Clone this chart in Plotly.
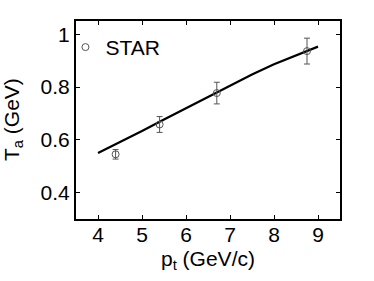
import plotly.graph_objects as go

# STAR data
pt_star = [4.40, 5.40, 6.70, 8.75]
ta_star = [0.545, 0.658, 0.777, 0.936]
ta_err = [0.018, 0.030, 0.041, 0.049]

# model curve
pt_model = [4.0, 4.5, 5.0, 5.5, 6.0, 6.5, 7.0, 7.5, 8.0, 8.5, 9.0]
ta_model = [0.550, 0.591, 0.633, 0.677, 0.720, 0.764, 0.806, 0.847, 0.886, 0.921, 0.953]

x_ticks = [4, 5, 6, 7, 8, 9]
y_ticks = [0.4, 0.6, 0.8, 1.0]
y_ticklabels = ["0.4", "0.6", "0.8", "1"]

FONT = "Liberation Sans, Arial, sans-serif"

fig = go.Figure()
fig.add_trace(go.Scatter(
    x=pt_model, y=ta_model, mode="lines",
    line=dict(color="black", width=2.2), showlegend=False,
))
fig.add_trace(go.Scatter(
    x=pt_star, y=ta_star, mode="markers", name="STAR",
    marker=dict(symbol="circle-open", size=7, color="#555555", line=dict(width=1)),
    error_y=dict(type="data", array=ta_err, visible=True, color="#555555",
                 thickness=1, width=3),
))

fig.update_layout(
    width=374, height=281,
    margin=dict(l=76, r=34, t=21, b=62),
    paper_bgcolor="white", plot_bgcolor="white",
    font=dict(family=FONT, size=21, color="black"),
    legend=dict(x=-0.04, y=0.97, xanchor="left", yanchor="top",
                bgcolor="rgba(0,0,0,0)", font=dict(size=21),
                itemwidth=30, tracegroupgap=0),
    xaxis=dict(range=[3.5, 9.5], tickvals=x_ticks, ticks="inside", ticklen=4,
               tickcolor="black", showline=True, linecolor="black", linewidth=2,
               mirror="ticks", showgrid=False, zeroline=False,
               tickfont=dict(size=21), ticklabelstandoff=-4),
    yaxis=dict(range=[0.3, 1.05], tickvals=y_ticks, ticktext=y_ticklabels,
               ticks="inside", ticklen=4, tickcolor="black", showline=True,
               linecolor="black", linewidth=2, mirror="ticks", showgrid=False,
               zeroline=False, tickfont=dict(size=21)),
    annotations=[
        dict(text="p<sub>t</sub> (GeV/c)", xref="paper", yref="paper",
             x=0.5, y=0, yshift=-41, xanchor="center", yanchor="middle",
             showarrow=False, font=dict(size=21)),
        dict(text="T<sub>a</sub> (GeV)", xref="paper", yref="paper",
             x=0, y=0.5, xshift=-63, xanchor="center", yanchor="middle",
             textangle=-90, showarrow=False, font=dict(size=21)),
    ],
)

fig.write_html("out.html",
               config={"displayModeBar": False},
               post_script="document.body.style.margin='0';")
